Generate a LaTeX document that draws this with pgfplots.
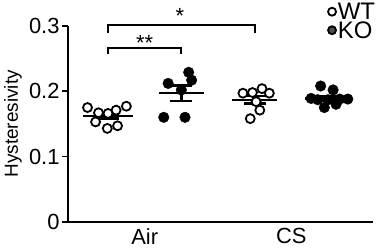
\documentclass[border=0pt]{standalone}
\usepackage{fontspec}
\setmainfont{Liberation Sans}
\usepackage{pgfplots}
\pgfplotsset{compat=1.18}
\begin{document}
\begin{tikzpicture}
\begin{axis}[
  at={(0,0)}, anchor=south west,
  scale only axis, width=305bp, height=195.7bp,
  xmin=0.454, xmax=4.614, ymin=0, ymax=0.3,
  axis x line=bottom, axis y line=left,
  axis line style={line width=1.8bp, -},
  ytick={0,0.1,0.2,0.3}, yticklabels={0,0.1,0.2,0.3},
  xtick={1.5,3.5}, xticklabels={Air,CS},
  x tick style={draw=none},
  y tick style={line width=1.8bp, black},
  tick align=outside, major tick length=6bp,
  tick label style={font=\fontsize{22}{24}\selectfont},
  yticklabel style={xshift=1bp},
  xticklabel style={yshift=3bp},
  ylabel={Hysteresivity},
  ylabel style={font=\fontsize{19}{22}\selectfont, at={(axis description cs:-0.18,0.5)}, anchor=center},
  clip=false,
  legend style={at={(axis description cs:0.852,1.1175)}, anchor=north west, draw=none, fill=none,
    row sep=1.5bp, inner sep=0pt, nodes={inner sep=0.25bp, text height=16.5bp, text depth=0bp},
    /tikz/every odd column/.append style={column sep=1.5bp}},
  legend cell align=left,
]
\addlegendimage{only marks, mark=*, mark size=4bp, mark options={fill=white, draw=black, line width=1.8bp}}
\addlegendentry{\fontsize{24}{24}\selectfont WT}
\addlegendimage{only marks, mark=*, mark size=4bp, mark options={fill=black!70, draw=black, line width=1.8bp}}
\addlegendentry{\fontsize{24}{24}\selectfont KO}

% WT points
\addplot[only marks, mark=*, mark size=4.5bp, mark options={fill=white, draw=black, line width=1.8bp}, forget plot] coordinates {
(0.72,0.175)(1.25,0.177)(1.11,0.171)(0.87,0.167)(1.00,0.166)(0.83,0.153)(0.99,0.143)(1.13,0.147)
};
\addplot[only marks, mark=*, mark size=4.5bp, mark options={fill=white, draw=black, line width=1.8bp}, forget plot] coordinates {
(2.84,0.197)(2.97,0.198)(3.10,0.204)(3.20,0.197)(3.02,0.184)(3.07,0.171)(2.94,0.158)
};
% KO points
\addplot[only marks, mark=*, mark size=5.3bp, mark options={fill=black, draw=black}, forget plot] coordinates {
(2.10,0.229)(1.82,0.212)(2.14,0.217)(2.00,0.202)(1.76,0.160)(2.05,0.160)
};
\addplot[only marks, mark=*, mark size=5.3bp, mark options={fill=black, draw=black}, forget plot] coordinates {
(3.90,0.208)(4.07,0.202)(3.77,0.189)(4.27,0.188)(3.95,0.175)(4.11,0.180)(4.16,0.188)(3.86,0.187)(4.00,0.187)
};

% means
\pgfplotsset{meanline/.style={black, line width=2.4bp, forget plot}}
\addplot[meanline] coordinates {(0.66,0.162)(1.34,0.162)};
\addplot[meanline] coordinates {(1.69,0.197)(2.31,0.197)};
\addplot[meanline] coordinates {(2.69,0.187)(3.31,0.187)};
\addplot[meanline] coordinates {(3.69,0.189)(4.31,0.189)};
% SEM
\addplot[meanline] coordinates {(1,0.158)(1,0.166)};
\addplot[meanline] coordinates {(0.85,0.158)(1.15,0.158)};
\addplot[meanline] coordinates {(0.85,0.166)(1.15,0.166)};
\addplot[meanline] coordinates {(2,0.185)(2,0.209)};
\addplot[meanline] coordinates {(1.85,0.185)(2.15,0.185)};
\addplot[meanline] coordinates {(1.85,0.209)(2.15,0.209)};
\addplot[meanline] coordinates {(3,0.181)(3,0.193)};
\addplot[meanline] coordinates {(2.85,0.181)(3.15,0.181)};
\addplot[meanline] coordinates {(2.85,0.193)(3.15,0.193)};
\addplot[meanline] coordinates {(4,0.185)(4,0.193)};
\addplot[meanline] coordinates {(3.85,0.185)(4.15,0.185)};
\addplot[meanline] coordinates {(3.85,0.193)(4.15,0.193)};

% brackets
\addplot[black, line width=2.2bp, line join=miter, forget plot] coordinates {(1,0.257)(1,0.266)(2,0.266)(2,0.257)};
\addplot[black, line width=2.2bp, line join=miter, forget plot] coordinates {(1,0.290)(1,0.301)(3,0.301)(3,0.290)};
\node[font=\fontsize{22}{22}\selectfont] at (axis cs:1.5,0.274) {**};
\node[font=\fontsize{22}{22}\selectfont] at (axis cs:1.98,0.316) {*};
\end{axis}
\pgfresetboundingbox
\useasboundingbox (-68bp,-26.3bp) rectangle (315bp,221.7bp);
\end{tikzpicture}
\end{document}
